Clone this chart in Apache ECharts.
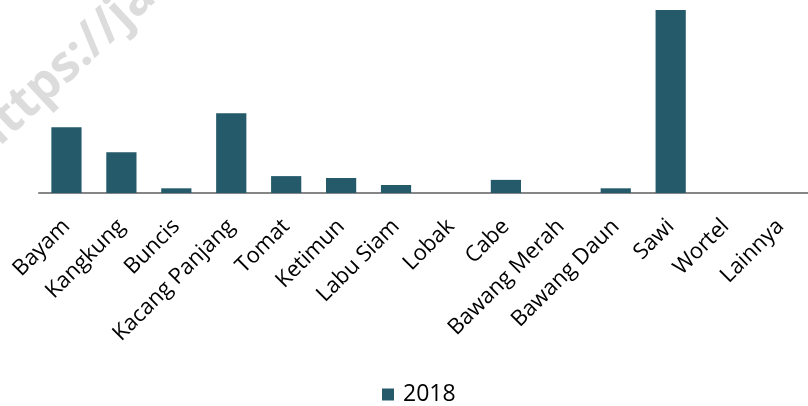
<!DOCTYPE html>
<html><head><meta charset="utf-8">
<script src="https://cdn.jsdelivr.net/npm/echarts@6/dist/echarts.min.js"></script>
<style>html,body{margin:0;padding:0;background:#fff}#c{width:808px;height:406px}</style>
</head><body><div id="c"></div>
<script>
const categories = ["Bayam","Kangkung","Buncis","Kacang Panjang","Tomat","Ketimun","Labu Siam","Lobak","Cabe","Bawang Merah","Bawang Daun","Sawi","Wortel","Lainnya"];
const values2018 = [14, 8.7, 1, 17, 3.6, 3.2, 1.7, 0, 2.8, 0, 1, 39, 0, 0];
const seriesName = "2018";
const watermark = "https://jateng";

const chart = echarts.init(document.getElementById('c'), null, {renderer:'canvas'});
chart.setOption({
  animation:false,
  backgroundColor:'#fff',
  graphic:[{
    type:'text', z:-1, rotation:0.75,
    x:-40, y:130,
    style:{text:watermark, font:'bold 50px "Open Sans", sans-serif', fill:'rgba(205,205,205,0.7)'}
  }],
  grid:{left:39, right:0, top:5.4, bottom:213, containLabel:false},
  legend:{data:[seriesName], bottom:-5, left:377, itemWidth:12, itemHeight:12, itemGap:9,
    icon:'rect', textStyle:{fontFamily:'"Open Sans", sans-serif', fontSize:23, color:'#000', padding:[0,0,0,4]}},
  xAxis:{type:'category', data:categories,
    axisLine:{lineStyle:{color:'#868686', width:2}}, axisTick:{show:false},
    axisLabel:{rotate:45, interval:0, margin:30, fontFamily:'"Open Sans", sans-serif', fontSize:22, color:'#000'}},
  yAxis:{type:'value', min:0, max:40, show:false, splitLine:{show:false}},
  series:[{name:seriesName, type:'bar', data:values2018, barWidth:'55%',
    itemStyle:{color:'#245A69'}}]
});
</script></body></html>
